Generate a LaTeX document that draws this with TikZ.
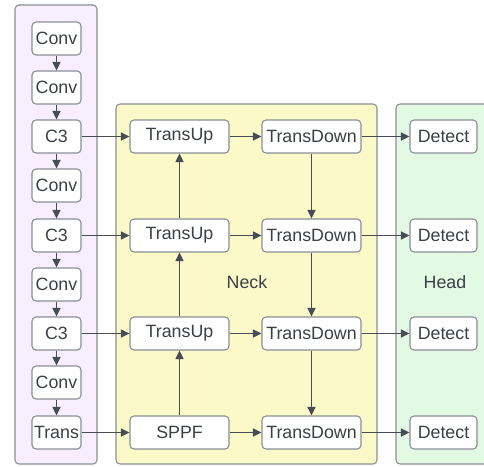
\documentclass[tikz,border=0pt]{standalone}
\usepackage{fontspec}
\setmainfont{Liberation Sans}
\usetikzlibrary{arrows.meta}
\definecolor{txt}{HTML}{3B3F48}
\definecolor{edge}{HTML}{474C56}
\definecolor{frame}{HTML}{8A8E95}
\definecolor{backfill}{HTML}{F8EEFE}
\definecolor{neckfill}{HTML}{FCF9C9}
\definecolor{headfill}{HTML}{E3F9E3}
\begin{document}
\begin{tikzpicture}[x=1pt,y=-1pt,
		panel/.style={draw=frame,line width=1.1pt,rounded corners=4pt},
		blk/.style={draw=frame,fill=white,line width=1.1pt,rounded corners=4pt,inner sep=0pt,minimum height=33pt,text=txt,font=\fontsize{17.8}{20}\selectfont},
		small/.style={blk,minimum width=49pt},
		wide/.style={blk,minimum width=99pt},
		det/.style={blk,minimum width=67pt},
		lbl/.style={text=txt,font=\fontsize{17.8}{20}\selectfont},
		flow/.style={draw=edge,line width=1.1pt,-{Triangle[length=8.5pt,width=8pt]}}]
		\useasboundingbox (0,0) rectangle (484,466);
		\clip (0,0) rectangle (484,466);
		\draw[panel,fill=backfill] (15,5) rectangle (97,464);
		\draw[panel,fill=neckfill] (116,104) rectangle (377,464);
		\draw[panel,fill=headfill] (396,104) rectangle (500,464);
		\node[lbl](neck) at (247,282){Neck};
		\node[lbl](head) at (445,282){Head};
		\node[small](b1) at (56.5,38.5){Conv};
		\node[small](b2) at (56.5,87.5){Conv};
		\node[small](b3) at (56.5,136.5){C3};
		\node[small](b4) at (56.5,185.5){Conv};
		\node[small](b5) at (56.5,235.5){C3};
		\node[small](b6) at (56.5,284.5){Conv};
		\node[small](b7) at (56.5,333.5){C3};
		\node[small](b8) at (56.5,382.5){Conv};
		\node[small](b9) at (56.5,432.5){Trans};
		\node[wide](u1) at (179.5,136.5){TransUp};
		\node[wide](u2) at (179.5,235.5){TransUp};
		\node[wide](u3) at (179.5,333.5){TransUp};
		\node[wide](sppf) at (179.5,432.5){SPPF};
		\node[wide](d1) at (311.5,136.5){TransDown};
		\node[wide](d2) at (311.5,235.5){TransDown};
		\node[wide](d3) at (311.5,333.5){TransDown};
		\node[wide](d4) at (311.5,432.5){TransDown};
		\node[det](h1) at (443.5,136.5){Detect};
		\node[det](h2) at (443.5,235.5){Detect};
		\node[det](h3) at (443.5,333.5){Detect};
		\node[det](h4) at (443.5,432.5){Detect};
		\draw[flow] (b1)--(b2);
		\draw[flow] (b2)--(b3);
		\draw[flow] (b3)--(b4);
		\draw[flow] (b4)--(b5);
		\draw[flow] (b5)--(b6);
		\draw[flow] (b6)--(b7);
		\draw[flow] (b7)--(b8);
		\draw[flow] (b8)--(b9);
		\draw[flow] (b3)--(u1);
		\draw[flow] (b5)--(u2);
		\draw[flow] (b7)--(u3);
		\draw[flow] (b9)--(sppf);
		\draw[flow] (sppf)--(u3);
		\draw[flow] (u3)--(u2);
		\draw[flow] (u2)--(u1);
		\draw[flow] (u1)--(d1);
		\draw[flow] (u2)--(d2);
		\draw[flow] (u3)--(d3);
		\draw[flow] (sppf)--(d4);
		\draw[flow] (d1)--(d2);
		\draw[flow] (d2)--(d3);
		\draw[flow] (d3)--(d4);
		\draw[flow] (d1)--(h1);
		\draw[flow] (d2)--(h2);
		\draw[flow] (d3)--(h3);
		\draw[flow] (d4)--(h4);
	\end{tikzpicture}
\end{document}
